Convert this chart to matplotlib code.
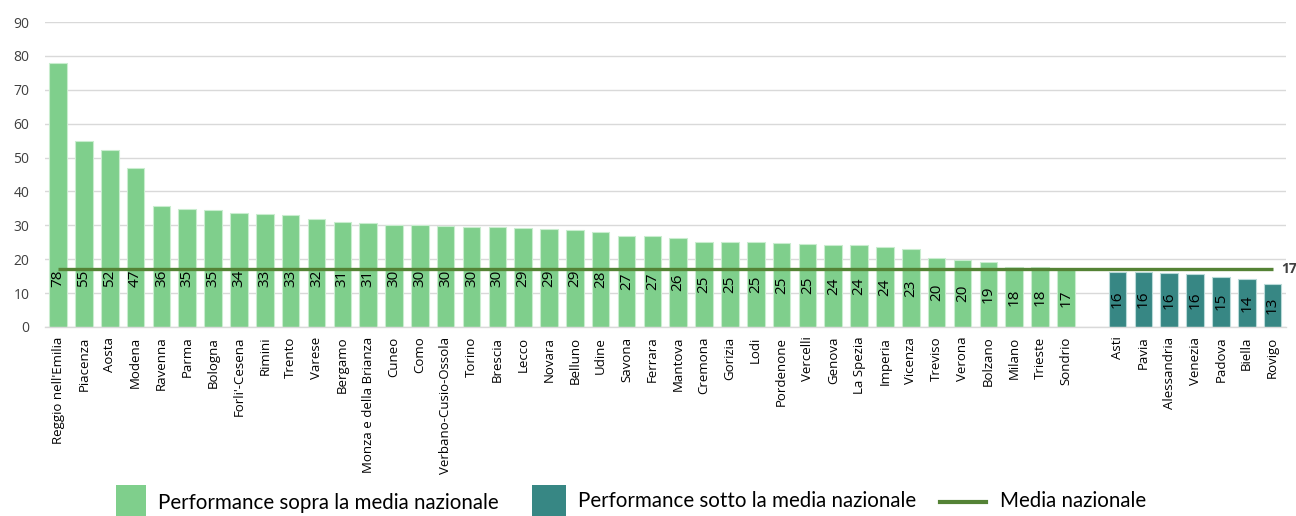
import matplotlib
matplotlib.use("Agg")
import matplotlib.pyplot as plt
from matplotlib.patches import Rectangle
from matplotlib.lines import Line2D

# ---- data ----
above_labels = ["Reggio nell'Emilia", "Piacenza", "Aosta", "Modena", "Ravenna", "Parma",
                "Bologna", "Forli'-Cesena", "Rimini", "Trento", "Varese", "Bergamo",
                "Monza e della Brianza", "Cuneo", "Como", "Verbano-Cusio-Ossola", "Torino",
                "Brescia", "Lecco", "Novara", "Belluno", "Udine", "Savona", "Ferrara",
                "Mantova", "Cremona", "Gorizia", "Lodi", "Pordenone", "Vercelli", "Genova",
                "La Spezia", "Imperia", "Vicenza", "Treviso", "Verona", "Bolzano", "Milano",
                "Trieste", "Sondrio"]
above_values = [77.9, 54.9, 52.2, 46.9, 35.6, 34.9, 34.6, 33.5, 33.2, 33.0, 31.9, 30.9,
                30.6, 30.1, 30.0, 29.7, 29.6, 29.5, 29.2, 29.0, 28.7, 28.1, 26.9, 26.9,
                26.3, 25.2, 25.2, 25.0, 24.7, 24.6, 24.3, 24.3, 23.6, 23.1, 20.3, 19.9,
                19.1, 17.8, 17.6, 17.1]
below_labels = ["Asti", "Pavia", "Alessandria", "Venezia", "Padova", "Biella", "Rovigo"]
below_values = [16.2, 16.1, 16.0, 15.6, 14.9, 14.1, 12.6]
media_nazionale = 17.0
yticks = [0, 10, 20, 30, 40, 50, 60, 70, 80, 90]
legend_labels = ["Performance sopra la media nazionale",
                 "Performance sotto la media nazionale",
                 "Media nazionale"]

GREEN = "#7FCF8C"
TEAL = "#378784"
LINE = "#548235"

fig = plt.figure(figsize=(12.96, 5.16), dpi=100)
ax = fig.add_axes([44.6 / 1296, 1 - 327 / 516, (1286 - 44.6) / 1296, (327 - 22) / 516])

n_above = len(above_values)
x_above = list(range(n_above))
x_below = [n_above + 1 + i for i in range(len(below_values))]

ax.bar(x_above, above_values, width=0.68, color=GREEN, edgecolor="#C9EDCF",
       linewidth=0.8, zorder=2)
ax.bar(x_below, below_values, width=0.68, color=TEAL, edgecolor="#B9DAD8",
       linewidth=0.8, zorder=2)

# value labels
for xs, vs in ((x_above, above_values), (x_below, below_values)):
    for x, v in zip(xs, vs):
        ax.text(x, min(v / 2, 14.4), f"{round(v):d}", rotation=90, ha="center",
                va="center", fontsize=11, color="black", family="Open Sans",
                zorder=4)

# national average line
x_end = x_below[-1]
ax.hlines(media_nazionale, 0, x_end, color=LINE, linewidth=2.4, zorder=3)
ax.text(x_end + 0.33, media_nazionale, f"{media_nazionale:.0f}", ha="left",
        va="center", fontsize=10, fontweight="bold", color="#404040",
        family="Open Sans")

ax.set_xlim(-0.52, x_end + 0.52)
ax.set_ylim(0, 90)
ax.set_yticks(yticks)
ax.set_yticklabels([str(t) for t in yticks], family="Open Sans", fontsize=10,
                   color="#404040")
ax.set_xticks(x_above + x_below)
ax.set_xticklabels(above_labels + below_labels, rotation=90, family="Open Sans",
                   fontsize=9.5, color="black", va="top", ha="center")
ax.tick_params(axis="both", length=0)
ax.tick_params(axis="y", pad=11)
ax.tick_params(axis="x", pad=7)
ax.grid(axis="y", color="#D9D9D9", linewidth=1.0, zorder=0)
ax.set_axisbelow(True)
for s in ("top", "right", "left"):
    ax.spines[s].set_visible(False)
ax.spines["bottom"].set_color("#D9D9D9")
ax.spines["bottom"].set_linewidth(1.0)

# legend (manual)
W, H = 1296, 516
def fx(px):
    return px / W
def fy(py):
    return 1 - py / H

fig.patches.append(Rectangle((fx(116), fy(516)), fx(146) - fx(116), fy(485) - fy(516),
                             transform=fig.transFigure, facecolor=GREEN, edgecolor="none"))
fig.text(fx(158), fy(503), legend_labels[0], fontsize=14.8, family="Lato",
         va="center", ha="left", color="black")
fig.patches.append(Rectangle((fx(532), fy(516)), fx(566) - fx(532), fy(485) - fy(516),
                             transform=fig.transFigure, facecolor=TEAL, edgecolor="none"))
fig.text(fx(578), fy(501), legend_labels[1], fontsize=14.8, family="Lato",
         va="center", ha="left", color="black")
fig.lines.append(Line2D([fx(940), fx(986)], [fy(502), fy(502)], transform=fig.transFigure,
                        color=LINE, linewidth=3))
fig.text(fx(1000), fy(501), legend_labels[2], fontsize=14.8, family="Lato",
         va="center", ha="left", color="black")

fig.savefig("out.png", dpi=100)
